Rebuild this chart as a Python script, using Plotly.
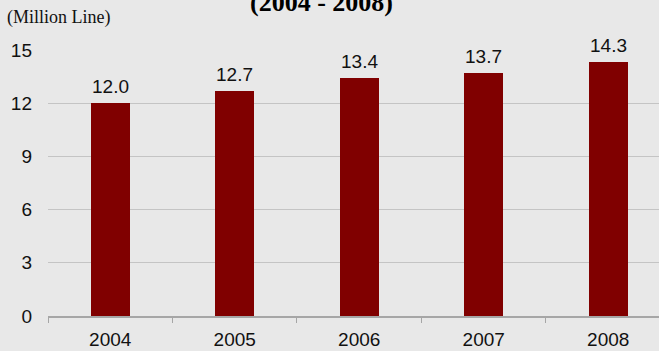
import plotly.graph_objects as go

years = ["2004", "2005", "2006", "2007", "2008"]
lines_million = [12.0, 12.7, 13.4, 13.7, 14.3]
value_labels = ["12.0", "12.7", "13.4", "13.7", "14.3"]
y_ticks = [0, 3, 6, 9, 12, 15]

W, H = 659, 351
ML, MR, MT, MB = 48, 0, 50, 35
PW, PH = W - ML - MR, H - MT - MB


def px_x(x):
    return (x - ML) / PW


def px_y(y):
    return (H - MB - y) / PH


SANS = "Liberation Sans, Arial"
SERIF = "Liberation Serif, Times New Roman"
bg = "#e8e8e8"

fig = go.Figure(go.Bar(
    x=years, y=lines_million,
    marker=dict(color="#800000", line=dict(width=0)),
    width=0.31,
    cliponaxis=False,
))

annots = [
    dict(text="<b>(2004 - 2008)</b>", x=px_x(321), y=px_y(2.5),
         xref="paper", yref="paper", showarrow=False,
         font=dict(family=SERIF, size=26, color="#000"),
         xanchor="center", yanchor="middle"),
    dict(text="(Million Line)", x=px_x(5), y=px_y(17),
         xref="paper", yref="paper", showarrow=False,
         font=dict(family=SERIF, size=18, color="#111"),
         xanchor="left", yanchor="middle"),
]
for i, (v, lab) in enumerate(zip(lines_million, value_labels)):
    annots.append(dict(text=lab, x=i, y=v, xref="x", yref="y", showarrow=False,
                       yanchor="bottom", yshift=4,
                       font=dict(family=SANS, size=19, color="#111")))

fig.update_layout(
    width=W, height=H,
    paper_bgcolor=bg, plot_bgcolor=bg,
    margin=dict(l=ML, r=MR, t=MT, b=MB, autoexpand=False),
    showlegend=False,
    bargap=0,
    xaxis=dict(
        type="category", range=[-0.5, 4.408], automargin=False,
        showline=True, linecolor="#a6a6a6", linewidth=1.5,
        ticks="outside", tickson="boundaries", ticklen=5, tickcolor="#a6a6a6",
        showgrid=False, ticklabelstandoff=5,
        tickfont=dict(family=SANS, size=19, color="#111"),
    ),
    yaxis=dict(
        range=[0, 15], tickvals=y_ticks, automargin=False,
        showgrid=True, gridcolor="#c4c4c4", gridwidth=1,
        zeroline=False, ticks="", ticklabelstandoff=15,
        tickfont=dict(family=SANS, size=19, color="#111"),
    ),
    annotations=annots,
)

fig.write_html("out.html", config={"displayModeBar": False},
               post_script="document.body.style.margin='0';document.body.style.background='#e8e8e8';")
